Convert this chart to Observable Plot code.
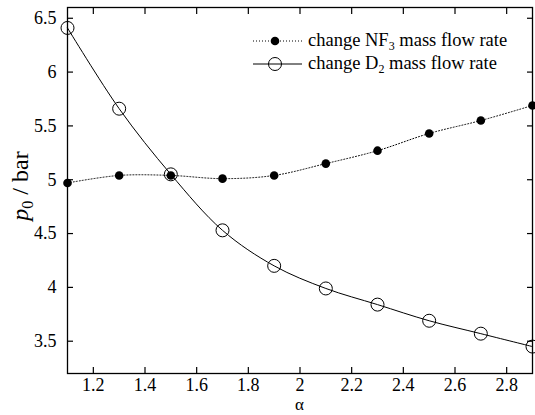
<!DOCTYPE html>
<html>
<head>
<meta charset="utf-8">
<script src="https://cdn.jsdelivr.net/npm/d3@7"></script>
<script src="https://cdn.jsdelivr.net/npm/@observablehq/plot@0.6"></script>
<style>
  html, body { margin: 0; padding: 0; background: #fff; }
  #chart svg { display: block; }
  #chart svg, #chart svg text, #chart svg g { font-family: "Liberation Serif", "Times New Roman", "DejaVu Serif", serif !important; }
</style>
</head>
<body>
<div id="chart"></div>
<script>
// Data
const alpha = [1.1, 1.3, 1.5, 1.7, 1.9, 2.1, 2.3, 2.5, 2.7, 2.9];
const p0_NF3 = [4.97, 5.04, 5.04, 5.01, 5.04, 5.15, 5.27, 5.43, 5.55, 5.69];
const p0_D2  = [6.41, 5.66, 5.05, 4.53, 4.20, 3.99, 3.84, 3.69, 3.57, 3.45];
const xTicks = [1.2, 1.4, 1.6, 1.8, 2, 2.2, 2.4, 2.6, 2.8];
const yTicks = [3.5, 4, 4.5, 5, 5.5, 6, 6.5];
const seriesNames = ["change NF\u2083 mass flow rate", "change D\u2082 mass flow rate"];

const nf3 = alpha.map((a, i) => ({a, p: p0_NF3[i]}));
const d2 = alpha.map((a, i) => ({a, p: p0_D2[i]}));

const font = "Liberation Serif, Times New Roman, serif";

const plot = Plot.plot({
  width: 535,
  height: 415,
  marginLeft: 67,
  marginRight: 3,
  marginTop: 7,
  marginBottom: 42,
  style: {fontFamily: font, fontSize: "18px", color: "#000", background: "#fff"},
  x: {domain: [1.1, 2.9]},
  y: {domain: [3.2, 6.6]},
  marks: [
    Plot.frame({stroke: "#000", strokeWidth: 1.3}),
    // inward ticks on all four sides (tick only, no text)
    Plot.axisX(xTicks, {anchor: "bottom", tickSize: -6, fill: "none", label: null, strokeWidth: 1.2}),
    Plot.axisX(xTicks, {anchor: "top", tickSize: -6, fill: "none", label: null, strokeWidth: 1.2}),
    Plot.axisY(yTicks, {anchor: "left", tickSize: -6, fill: "none", label: null, strokeWidth: 1.2}),
    Plot.axisY(yTicks, {anchor: "right", tickSize: -6, fill: "none", label: null, strokeWidth: 1.2}),
    // tick labels
    Plot.axisX(xTicks, {anchor: "bottom", tickSize: 0, tickPadding: 5, label: null, tickFormat: d => String(d), fontSize: 18, fontFamily: font}),
    Plot.axisY(yTicks, {anchor: "left", tickSize: 0, tickPadding: 11, label: null, tickFormat: d => String(d), fontSize: 18, fontFamily: font}),
    // series
    Plot.line(nf3, {x: "a", y: "p", curve: "catmull-rom", stroke: "#000", strokeWidth: 1, strokeDasharray: "1,2"}),
    Plot.line(d2, {x: "a", y: "p", curve: "catmull-rom", stroke: "#000", strokeWidth: 1}),
    Plot.dot(nf3, {x: "a", y: "p", r: 4.3, fill: "#000", stroke: "none"}),
    Plot.dot(d2, {x: "a", y: "p", r: 6.5, fill: "none", stroke: "#000", strokeWidth: 1})
  ]
});

document.getElementById("chart").appendChild(plot);

// Axis titles and legend added with d3
const svg = d3.select(plot);

// x label: alpha
svg.append("text")
  .attr("x", 299.5).attr("y", 410)
  .attr("text-anchor", "middle")
  .attr("font-family", font).attr("font-size", 17)
  .text("\u03b1");

// y label: p0 / bar
const yl = svg.append("text")
  .attr("transform", "translate(28,186) rotate(-90)")
  .attr("text-anchor", "middle")
  .attr("font-family", font).attr("font-size", 24);
yl.append("tspan").attr("font-style", "italic").text("p");
yl.append("tspan").attr("dy", 5).attr("font-size", 16).text("0");
yl.append("tspan").attr("dy", -5).text(" / bar");

// legend
const leg = svg.append("g").attr("font-family", font).attr("font-size", 18.5).attr("text-anchor", "start");
const rows = [
  {y: 41, dash: "1,2", filled: true, main: "change NF", sub: "3", rest: " mass flow rate"},
  {y: 64, dash: null, filled: false, main: "change D", sub: "2", rest: " mass flow rate"}
];
rows.forEach((r, i) => {
  leg.append("line").attr("x1", 253).attr("x2", 302).attr("y1", r.y).attr("y2", r.y)
    .attr("stroke", "#000").attr("stroke-width", 1)
    .attr("stroke-dasharray", r.dash);
  leg.append("circle").attr("cx", 275).attr("cy", r.y)
    .attr("r", r.filled ? 4.3 : 6.5)
    .attr("fill", r.filled ? "#000" : "none")
    .attr("stroke", r.filled ? "none" : "#000");
  const t = leg.append("text").attr("x", 308).attr("y", r.y + 5);
  t.append("tspan").text(r.main);
  t.append("tspan").attr("dy", 4).attr("font-size", 12).text(r.sub);
  t.append("tspan").attr("dy", -4).text(r.rest);
  t.append("title").text(seriesNames[i]);
});
</script>
</body>
</html>
